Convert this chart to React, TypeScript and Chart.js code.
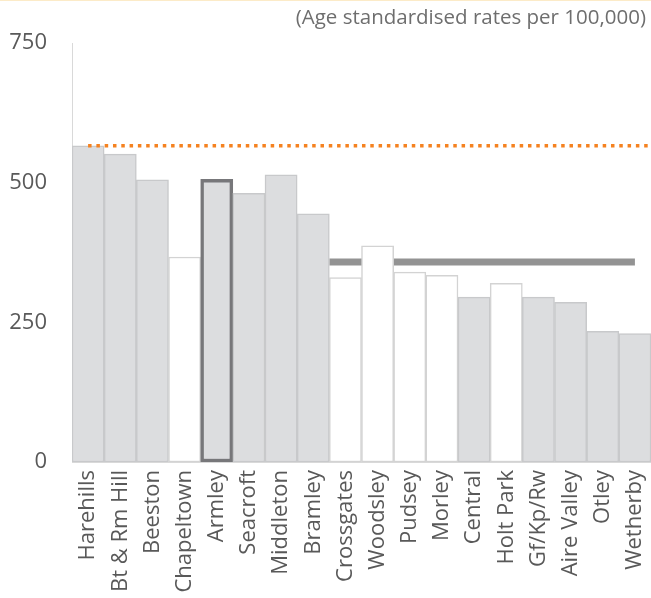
import React, { useEffect, useRef } from "react";
import { Chart, registerables } from "chart.js";

Chart.register(...registerables);

const categories = [
  "Harehills", "Bt & Rm Hill", "Beeston", "Chapeltown", "Armley", "Seacroft",
  "Middleton", "Bramley", "Crossgates", "Woodsley", "Pudsey", "Morley",
  "Central", "Holt Park", "Gf/Kp/Rw", "Aire Valley", "Otley", "Wetherby",
];
const rates = [566, 551, 505, 367, 506, 481, 514, 444, 330, 387, 340, 334, 295, 320, 295, 286, 234, 230];
// true = shaded bar (significantly different), false = open bar
const significant = [true, true, true, false, true, true, true, true, false, false, false, false, true, false, true, true, true, true];
const selectedArea = "Armley";
const orangeLevel = 566;
const orangeStart = 0; // category index position
const orangeEnd = 17.5;
const greyLevel = 358;
const greyStart = 7.5;
const greyEnd = 17;
const yTicks = [0, 250, 500, 750];
const subtitle = "(Age standardised rates per 100,000)";

const refLines = {
  id: "refLines",
  beforeDatasetsDraw(chart: any) {
    const { ctx, scales } = chart;
    const x = scales.x, y = scales.y;
    ctx.save();
    ctx.strokeStyle = "#939393";
    ctx.lineWidth = 7;
    ctx.beginPath();
    const yy = y.getPixelForValue(greyLevel);
    ctx.moveTo(x.getPixelForValue(greyStart), yy);
    ctx.lineTo(x.getPixelForValue(greyEnd), yy);
    ctx.stroke();
    ctx.restore();
  },
  afterDatasetsDraw(chart: any) {
    const { ctx, scales } = chart;
    const x = scales.x, y = scales.y;
    ctx.save();
    ctx.strokeStyle = "#f58220";
    ctx.lineWidth = 3.5;
    ctx.setLineDash([3.5, 4.8]);
    ctx.beginPath();
    const yy = y.getPixelForValue(orangeLevel);
    ctx.moveTo(x.getPixelForValue(orangeStart), yy);
    ctx.lineTo(x.getPixelForValue(orangeEnd), yy);
    ctx.stroke();
    ctx.restore();
  },
};

export default function App() {
  const ref = useRef<HTMLCanvasElement | null>(null);
  useEffect(() => {
    if (!ref.current) return;
    const fills = categories.map((c, i) => (significant[i] ? "#dcdddf" : "#ffffff"));
    const borders = categories.map((c, i) =>
      c === selectedArea ? "#77777a" : significant[i] ? "#c8c9cb" : "#d3d3d3"
    );
    const bw = categories.map((c) => (c === selectedArea ? 3.5 : 1.5));
    const chart = new Chart(ref.current, {
      type: "bar",
      data: {
        labels: categories,
        datasets: [
          {
            label: "rate",
            data: rates,
            backgroundColor: fills,
            borderColor: borders,
            borderWidth: bw,
            borderSkipped: false,
            categoryPercentage: 1,
            barPercentage: 1,
          } as any,
        ],
      },
      plugins: [refLines],
      options: {
        responsive: false,
        animation: false,
        layout: { padding: { top: 42, right: 0, left: 0, bottom: 0 } },
        plugins: { legend: { display: false }, tooltip: { enabled: false }, title: { display: false } },
        scales: {
          x: {
            type: "category",
            offset: true,
            grid: { display: false, drawTicks: false },
            border: { display: true, color: "#d9d9d9", width: 1 },
            ticks: {
              minRotation: 90,
              maxRotation: 90,
              autoSkip: false,
              padding: 8,
              color: "#595959",
              font: { family: "'Open Sans'", size: 22 },
            },
            afterFit: (s: any) => {
              s.height = 136;
              s.paddingLeft = 0;
              s.paddingRight = 0;
            },
          },
          y: {
            min: 0,
            max: 750,
            afterBuildTicks: (s: any) => { s.ticks = yTicks.map((v) => ({ value: v })); },
            grid: { display: false, drawTicks: false },
            border: { display: true, color: "#d9d9d9", width: 1 },
            ticks: {
              padding: 25,
              color: "#595959",
              font: { family: "'Open Sans'", size: 22 },
            },
            afterFit: (s: any) => {
              s.width = 72;
              s.paddingTop = 0;
              s.paddingBottom = 0;
            },
          },
        },
      },
    });
    return () => chart.destroy();
  }, []);
  return (
    <div style={{ position: "fixed", left: 0, top: 0, width: 651, height: 598, background: "#fff", borderTop: "1px solid #fcebc8", boxSizing: "border-box" }}>
      <canvas ref={ref} width={651} height={597} style={{ position: "absolute", left: 0, top: 0 }} />
      <div style={{ position: "absolute", right: 5, top: 1, fontFamily: "'Open Sans'", fontSize: 20.5, color: "#6e6e6e", whiteSpace: "nowrap" }}>
        {subtitle}
      </div>
    </div>
  );
}
